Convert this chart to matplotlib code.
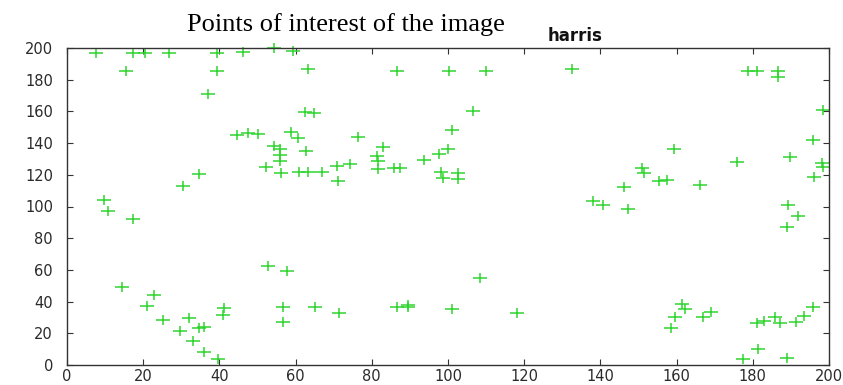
import matplotlib
matplotlib.use("Agg")
import matplotlib.pyplot as plt
from matplotlib.path import Path
import numpy as np

# harris corner points (x, y)
pts_x = [7.5, 17.2, 20.5, 26.9, 39.5, 46.1, 54.2, 59.4, 15.5, 39.5, 63.3, 86.7,
         100.3, 109.9, 132.6, 178.8, 181.0, 186.5, 186.5, 37.0, 62.5, 64.8, 106.5, 198.5,
         44.7, 47.6, 50.0, 58.7, 60.5, 76.5, 101.0, 54.2, 55.9, 55.9, 55.9, 62.7,
         82.9, 81.3, 81.7, 81.7, 85.9, 87.4, 52.2, 56.2, 61.0, 63.3, 66.8, 70.9,
         74.3, 71.0, 93.8, 97.6, 100.1, 98.1, 98.6, 102.5, 102.5, 34.6, 30.4, 159.4,
         175.8, 189.8, 195.7, 198.1, 198.3, 196.1, 150.8, 151.4, 146.2, 155.5, 157.6, 166.1,
         9.8, 10.8, 17.2, 138.0, 140.6, 147.3, 189.3, 191.8, 188.9, 52.8, 57.8, 108.4,
         14.4, 22.8, 20.9, 25.3, 32.1, 29.7, 34.6, 36.0, 33.0, 36.0, 39.6, 41.2,
         41.0, 56.6, 56.6, 65.1, 71.5, 86.5, 89.6, 89.6, 101.0, 118.0, 161.5, 162.2,
         159.6, 158.4, 167.0, 168.9, 181.0, 183.0, 185.8, 187.1, 191.3, 193.5, 195.7, 181.4,
         177.5, 188.9]
pts_y = [196.6, 196.6, 196.6, 196.6, 197.0, 197.2, 200.2, 198.3, 185.7, 185.7, 186.5, 185.7,
         185.5, 185.5, 186.5, 185.7, 185.7, 185.7, 181.9, 171.0, 159.6, 158.8, 160.5, 160.9,
         145.0, 146.2, 145.5, 147.2, 143.4, 143.6, 148.3, 138.4, 136.1, 132.5, 128.9, 135.2,
         137.7, 131.9, 128.7, 123.4, 124.5, 124.5, 125.1, 121.3, 121.5, 121.9, 121.9, 125.6,
         126.6, 116.3, 129.3, 132.9, 136.3, 121.5, 117.8, 120.9, 117.3, 120.3, 113.1, 136.3,
         128.3, 131.4, 142.0, 127.7, 125.1, 118.8, 124.0, 120.9, 112.5, 116.1, 116.7, 113.6,
         104.4, 97.4, 91.9, 103.5, 101.0, 98.4, 101.0, 94.2, 87.3, 62.5, 59.5, 55.1,
         49.4, 44.2, 37.2, 28.4, 29.5, 21.7, 23.2, 23.8, 15.3, 8.0, 3.8, 36.2,
         31.5, 36.8, 27.3, 36.4, 33.0, 36.8, 37.9, 36.6, 35.1, 33.0, 38.5, 35.1,
         30.5, 23.5, 30.0, 33.6, 26.7, 27.7, 30.0, 26.7, 27.1, 31.1, 36.4, 10.1,
         3.6, 4.2]

ticks = np.arange(0, 201, 20)

# the picture is stretched sideways, so the crosses are a bit wider than tall
plus = Path([(-1.3, 0), (1.3, 0), (0, -1), (0, 1)],
            [Path.MOVETO, Path.LINETO, Path.MOVETO, Path.LINETO])

fig = plt.figure(figsize=(8.43, 3.85), dpi=100)
ax = fig.add_axes([67/843, 20/385, 762/843, 317/385])

ax.plot(pts_x, pts_y, linestyle='none', marker=plus, markersize=9.5,
        markeredgewidth=1.1, color='#2fd42f', clip_on=False)

ax.set_xlim(0, 200)
ax.set_ylim(0, 200)
ax.set_xticks(ticks)
ax.set_yticks(ticks)
ax.tick_params(direction='in', length=4, width=0.8, top=True, right=True,
               labelsize=10.5, labelcolor='#2a2a2a', color='#333333')
ax.tick_params(axis='x', pad=3)
ax.tick_params(axis='y', pad=10)
for s in ax.spines.values():
    s.set_color('#333333')
    s.set_linewidth(1.0)

fig.text(346/843, 1 - 31/385, "Points of interest of the image",
         family='Liberation Serif', fontsize=19, ha='center', va='baseline')
fig.text(575/843, 1 - 41/385, "harris", family='DejaVu Sans', weight='bold',
         fontsize=12, ha='center', va='baseline', color='#111111')

fig.savefig("out.png", dpi=100)
